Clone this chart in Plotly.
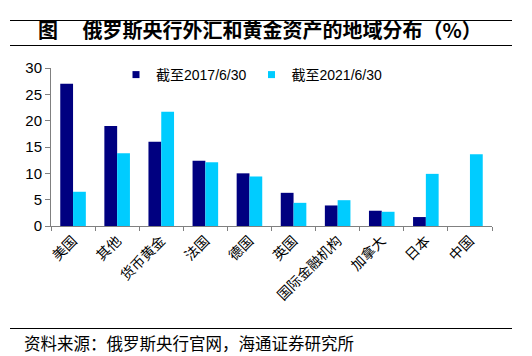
import plotly.graph_objects as go

categories = ["美国", "其他", "货币黄金", "法国", "德国", "英国", "国际金融机构", "加拿大", "日本", "中国"]
series_2017_name = "截至2017/6/30"
series_2021_name = "截至2021/6/30"
values_2017 = [27.0, 19.0, 16.0, 12.4, 10.0, 6.3, 3.9, 2.9, 1.7, 0.0]
values_2021 = [6.5, 13.8, 21.7, 12.1, 9.4, 4.4, 4.9, 2.7, 9.9, 13.6]
y_ticks = [0, 5, 10, 15, 20, 25, 30]

title_text = "图　 俄罗斯央行外汇和黄金资产的地域分布（%）"
source_text = "资料来源：俄罗斯央行官网，海通证券研究所"

color_2017 = "#000080"
color_2021 = "#00CCFF"
font_fam = "Liberation Sans, Arial, Noto Sans CJK SC, sans-serif"
cjk_fam = "Noto Sans CJK SC, sans-serif"

OFF = 8  # page body margin
W, H = 532 - OFF, 356 - OFF
L, T = 51 - OFF, 68 - OFF
R = W - (492 - OFF)
B = H - (226 - OFF)
pw, ph = W - L - R, H - T - B

def px_x(x):
    return (x - OFF - L) / pw

def px_y(y):
    return (H - B - (y - OFF)) / ph

fig = go.Figure()
fig.add_trace(go.Bar(x=categories, y=values_2017, name=series_2017_name,
                     marker=dict(color=color_2017, line=dict(width=0)), showlegend=False))
fig.add_trace(go.Bar(x=categories, y=values_2021, name=series_2021_name,
                     marker=dict(color=color_2021, line=dict(width=0)), showlegend=False))
# legend entries with small square symbols
for nm, col in [(series_2017_name, color_2017), (series_2021_name, color_2021)]:
    fig.add_trace(go.Scatter(x=[None], y=[None], mode="markers", name=nm,
                             marker=dict(symbol="square", size=7, color=col)))

rule_lines = [20.5, 45.5, 328.5]

fig.update_layout(
    width=W, height=H,
    margin=dict(l=L, r=R, t=T, b=B, autoexpand=False),
    paper_bgcolor="white", plot_bgcolor="white",
    barmode="group", bargap=0.42, bargroupgap=0,
    font=dict(family=font_fam, size=14, color="#000000"),
    showlegend=True,
    legend=dict(orientation="h", x=px_x(116), y=px_y(75), xanchor="left", yanchor="middle",
                font=dict(family=font_fam, size=14, color="#000000"),
                bgcolor="rgba(0,0,0,0)", borderwidth=0,
                itemwidth=30, tracegroupgap=0),
    xaxis=dict(
        type="category", showline=True, linecolor="#808080", linewidth=1,
        ticks="outside", tickson="boundaries", ticklen=4, tickcolor="#808080",
        tickangle=-45, tickfont=dict(family=cjk_fam, size=14, color="#000000"),
        showgrid=False, zeroline=False,
    ),
    yaxis=dict(
        range=[0, 30], tickvals=y_ticks, showline=True, linecolor="#808080", linewidth=1,
        ticks="outside", ticklen=5, tickcolor="#808080",
        tickfont=dict(family=font_fam, size=15, color="#000000"),
        showgrid=False, zeroline=False,
    ),
    shapes=[
        dict(type="line", xref="paper", yref="paper", x0=px_x(10), x1=px_x(512),
             y0=px_y(yy), y1=px_y(yy), layer="above",
             line=dict(color="#000000", width=1))
        for yy in rule_lines
    ],
    annotations=[
        dict(text="<b>" + title_text + "</b>", xref="paper", yref="paper",
             x=px_x(36), y=px_y(29), xanchor="left", yanchor="middle", showarrow=False,
             font=dict(family=cjk_fam, size=20, color="#000000")),
        dict(text=source_text, xref="paper", yref="paper",
             x=px_x(22), y=px_y(343), xanchor="left", yanchor="middle", showarrow=False,
             font=dict(family=cjk_fam, size=16.5, color="#000000")),
    ],
)

fig.write_html("out.html")
